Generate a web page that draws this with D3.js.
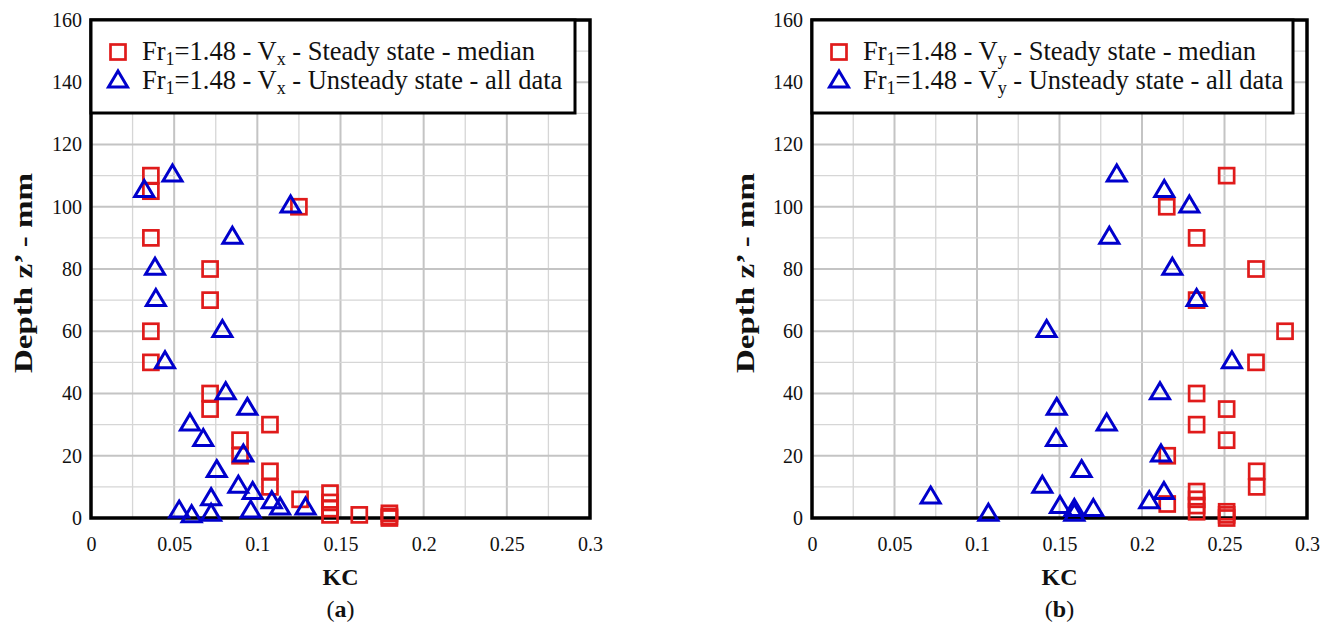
<!DOCTYPE html>
<html>
<head>
<meta charset="utf-8">
<script src="https://cdnjs.cloudflare.com/ajax/libs/d3/7.8.5/d3.min.js"></script>
<style>
body { margin: 0; background: #fff; }
text { font-family: 'Liberation Serif', 'Times New Roman', serif; fill: #111; }
</style>
</head>
<body>
<div id="chart"></div>
<script>
const WIDTH = 1333
const HEIGHT = 628
const RED = '#e01b1b'
const BLUE = '#0000cc'

const X_TICKS = [0, 0.05, 0.1, 0.15, 0.2, 0.25, 0.3]
const Y_TICKS = [0, 20, 40, 60, 80, 100, 120, 140, 160]

// (a) Vx
const A_STEADY_KC = [0.036, 0.036, 0.125, 0.036, 0.0716, 0.0716, 0.036, 0.036, 0.0716, 0.0716, 0.1076, 0.0896, 0.0896, 0.1076, 0.1076, 0.1257, 0.1437, 0.1437, 0.1437, 0.1437, 0.1613, 0.1794, 0.1794, 0.1794]
const A_STEADY_Z = [110, 105, 100, 90, 80, 70, 60, 50, 40, 35, 30, 25, 20, 15, 10, 6, 8, 5, 3, 1, 1, 1.5, 0.5, 0]
const A_UNSTEADY_KC = [0.049, 0.032, 0.12, 0.085, 0.0385, 0.039, 0.079, 0.0445, 0.081, 0.094, 0.0595, 0.0675, 0.0916, 0.0756, 0.0886, 0.0972, 0.0722, 0.1087, 0.1137, 0.129, 0.053, 0.0605, 0.0722, 0.096]
const A_UNSTEADY_Z = [110, 105, 100, 90, 80, 70, 60, 50, 40, 35, 30, 25, 20, 15, 10, 8, 6, 5, 3, 3, 2, 0.5, 1, 2]

// (b) Vy
const B_STEADY_KC = [0.2513, 0.215, 0.2331, 0.2691, 0.2331, 0.2867, 0.2691, 0.2331, 0.2513, 0.2331, 0.2513, 0.2153, 0.2695, 0.2695, 0.2331, 0.2331, 0.2331, 0.2331, 0.2153, 0.2513, 0.2513, 0.2513]
const B_STEADY_Z = [110, 100, 90, 80, 70, 60, 50, 40, 35, 30, 25, 20, 15, 10, 8.5, 6, 4, 2, 4.5, 2, 1, 0]
const B_UNSTEADY_KC = [0.1847, 0.2135, 0.2287, 0.1802, 0.2184, 0.2331, 0.1422, 0.2545, 0.2109, 0.1483, 0.1786, 0.1479, 0.2115, 0.1634, 0.1396, 0.2133, 0.0719, 0.2044, 0.1503, 0.159, 0.159, 0.1069, 0.1705]
const B_UNSTEADY_Z = [110, 105, 100, 90, 80, 70, 60, 50, 40, 35, 30, 25, 20, 15, 10, 8, 6.5, 5, 3.5, 2.5, 1, 1, 2.5]

const PANELS = [
    { left: 91, right: 590, legendRight: 575, comp: 'x', caption: 'a', titleX: 23,
      steady: [A_STEADY_KC, A_STEADY_Z], unsteady: [A_UNSTEADY_KC, A_UNSTEADY_Z] },
    { left: 812, right: 1307, legendRight: 1293, comp: 'y', caption: 'b', titleX: 745,
      steady: [B_STEADY_KC, B_STEADY_Z], unsteady: [B_UNSTEADY_KC, B_UNSTEADY_Z] }
]
const TOP = 20
const BOTTOM = 518

const square = sel => sel.append('rect')
    .attr('x', -7.5).attr('y', -7.5).attr('width', 15).attr('height', 15)
    .attr('fill', 'none').attr('stroke', RED).attr('stroke-width', 2.7)

const triangle = sel => sel.append('path')
    .attr('d', 'M0,-10L9.5,6L-9.5,6Z')
    .attr('fill', 'none').attr('stroke', BLUE).attr('stroke-width', 3).attr('stroke-linejoin', 'miter')

const zip = ([xs, zs]) => xs.map((kc, i) => ({ kc, z: zs[i] }))

const drawPanel = (svg, p) => {
    const x = d3.scaleLinear().domain([0, 0.3]).range([p.left, p.right])
    const y = d3.scaleLinear().domain([0, 160]).range([BOTTOM, TOP])
    const g = svg.append('g')

    // grid, every 0.025 and every 10 mm
    g.selectAll('.vgrid').data(d3.range(1, 12)).enter().append('line')
        .attr('x1', i => x(i * 0.025)).attr('x2', i => x(i * 0.025))
        .attr('y1', TOP).attr('y2', BOTTOM)
        .attr('stroke', i => i % 2 ? '#d6d6d6' : '#c4c4c4')
        .attr('stroke-width', i => i % 2 ? 1.3 : 2)
    g.selectAll('.hgrid').data(d3.range(1, 16)).enter().append('line')
        .attr('y1', i => y(i * 10)).attr('y2', i => y(i * 10))
        .attr('x1', p.left).attr('x2', p.right)
        .attr('stroke', i => i % 2 ? '#d6d6d6' : '#c4c4c4')
        .attr('stroke-width', i => i % 2 ? 1.3 : 2)

    g.append('rect')
        .attr('x', p.left).attr('y', TOP)
        .attr('width', p.right - p.left).attr('height', BOTTOM - TOP)
        .attr('fill', 'none').attr('stroke', '#000').attr('stroke-width', 3.5)

    const yAxis = d3.axisLeft(y).tickValues(Y_TICKS).tickSize(0).tickPadding(9)
    const yg = g.append('g').attr('transform', `translate(${p.left}, 0)`).call(yAxis)
    const xAxis = d3.axisBottom(x).tickValues(X_TICKS).tickSize(0).tickPadding(19).tickFormat(d => String(d))
    const xg = g.append('g').attr('transform', `translate(0, ${BOTTOM})`).call(xAxis)
    ;[yg, xg].forEach(a => {
        a.select('.domain').remove()
        a.selectAll('text').attr('font-size', 20).attr('fill', '#111')
    })

    g.append('text')
        .attr('x', (p.left + p.right) / 2).attr('y', 585)
        .attr('text-anchor', 'middle').attr('font-weight', 'bold').attr('font-size', 24)
        .text('KC')

    g.append('text')
        .attr('transform', `translate(${p.titleX}, ${(TOP + BOTTOM) / 2 + 4}) rotate(-90)`)
        .attr('text-anchor', 'middle').attr('dy', '0.35em')
        .attr('font-weight', 'bold').attr('font-size', 26)
        .attr('textLength', 200).attr('lengthAdjust', 'spacingAndGlyphs')
        .text('Depth z\u2019 - mm')

    const cap = g.append('text')
        .attr('x', (p.left + p.right) / 2).attr('y', 617)
        .attr('text-anchor', 'middle').attr('font-size', 24)
    cap.append('tspan').text('(')
    cap.append('tspan').attr('font-weight', 'bold').text(p.caption)
    cap.append('tspan').text(')')

    g.selectAll('.steady').data(zip(p.steady)).enter().append('g')
        .attr('transform', d => `translate(${x(d.kc)}, ${y(d.z)})`)
        .call(square)
    g.selectAll('.unsteady').data(zip(p.unsteady)).enter().append('g')
        .attr('transform', d => `translate(${x(d.kc)}, ${y(d.z) - 0.7})`)
        .call(triangle)

    // legend
    const lg = g.append('g')
    lg.append('rect')
        .attr('x', p.left).attr('y', TOP)
        .attr('width', p.legendRight - p.left).attr('height', 93)
        .attr('fill', '#fff').attr('stroke', '#000').attr('stroke-width', 3)
    const rows = [
        { mark: square, state: 'Steady state - median', cy: 52 },
        { mark: triangle, state: 'Unsteady state - all data', cy: 81 }
    ]
    rows.forEach(r => {
        lg.append('g').attr('transform', `translate(${p.left + 27}, ${r.cy})`).call(r.mark)
        const t = lg.append('text')
            .attr('x', p.left + 51).attr('y', r.cy + 8)
            .attr('font-size', 26.5)
        t.append('tspan').text('Fr')
        t.append('tspan').attr('font-size', 18).attr('dy', 5).text('1')
        t.append('tspan').attr('dy', -5).text('=1.48 - V')
        t.append('tspan').attr('font-size', 18).attr('dy', 5).text(p.comp)
        t.append('tspan').attr('dy', -5).text(` - ${r.state}`)
    })
}

const main = _ => {
    const svg = d3.select('#chart')
        .append('svg')
        .attr('width', WIDTH)
        .attr('height', HEIGHT)
    PANELS.forEach(p => drawPanel(svg, p))
}

document.addEventListener('DOMContentLoaded', main)
</script>
</body>
</html>
